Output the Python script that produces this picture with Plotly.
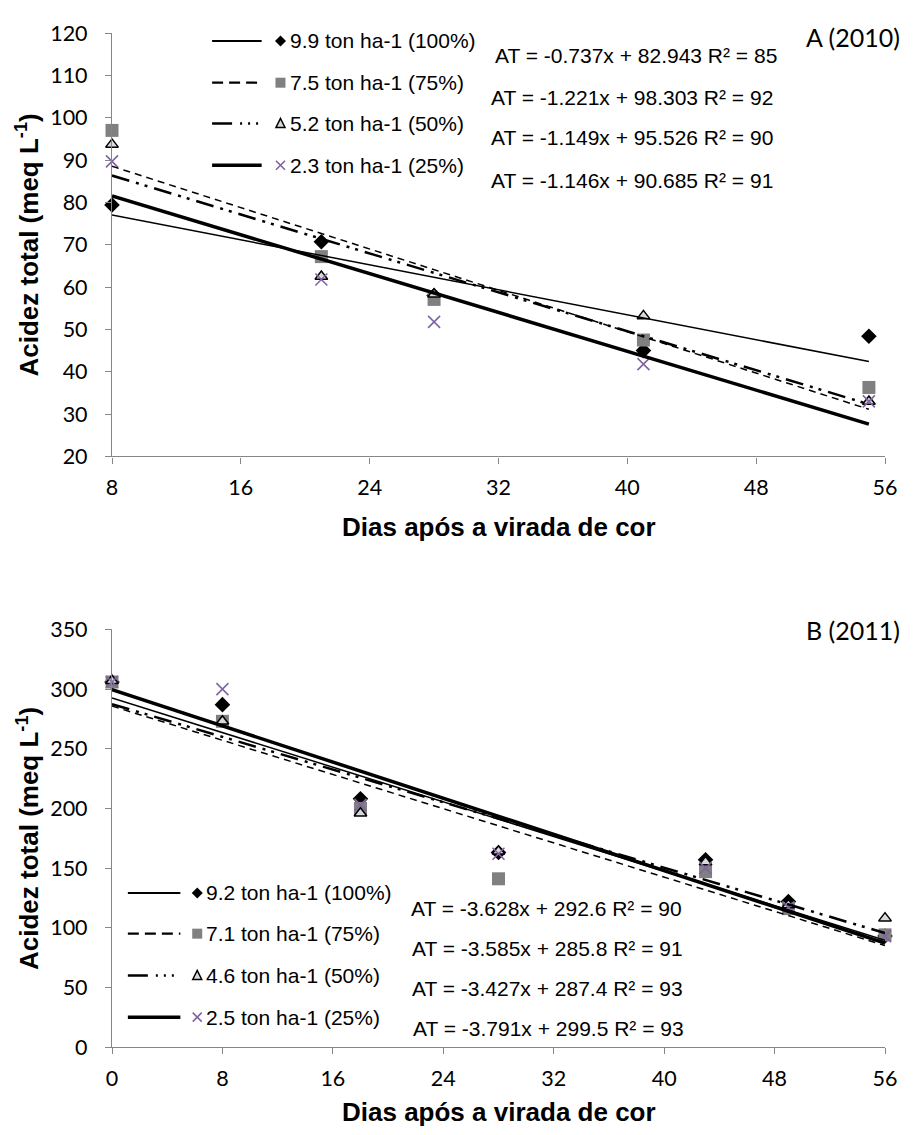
import plotly.graph_objects as go

# ---------------- data ----------------
days_a = [8, 21, 28, 41, 55]
a_100 = [79.4, 70.7, 58.0, 45.0, 48.4]
a_75 = [97.0, 67.2, 57.1, 47.5, 36.3]
a_50 = [93.7, 62.5, 58.3, 53.2, 33.0]
a_25 = [89.7, 61.8, 51.8, 41.8, 33.0]
slopes_a = [-0.737, -1.221, -1.149, -1.146]
intercepts_a = [82.943, 98.303, 95.526, 90.685]
r2_a = [85, 92, 90, 91]
labels_a = ["9.9 ton ha-1 (100%)", "7.5 ton ha-1 (75%)",
            "5.2 ton ha-1 (50%)", "2.3 ton ha-1 (25%)"]

days_b = [0, 8, 18, 28, 43, 49, 56]
b_100 = [306, 287, 208, 163, 157, 122, 93]
b_75 = [306, 273, 200, 141, 147, 116, 94]
b_50 = [307, 273, 196, 164, 155, 119, 108]
b_25 = [306, 300, 203, 162, 150, 117, 93]
slopes_b = [-3.628, -3.585, -3.427, -3.791]
intercepts_b = [292.6, 285.8, 287.4, 299.5]
r2_b = [90, 91, 93, 93]
labels_b = ["9.2 ton ha-1 (100%)", "7.1 ton ha-1 (75%)",
            "4.6 ton ha-1 (50%)", "2.5 ton ha-1 (25%)"]

x_ticks_a = [8, 16, 24, 32, 40, 48, 56]
y_ticks_a = [20, 30, 40, 50, 60, 70, 80, 90, 100, 110, 120]
x_ticks_b = [0, 8, 16, 24, 32, 40, 48, 56]
y_ticks_b = [0, 50, 100, 150, 200, 250, 300, 350]

panel_a_title = "A (2010)"
panel_b_title = "B (2011)"
x_title = "Dias após a virada de cor"
y_title = "Acidez total (meq L<sup>-1</sup>)"

# ---------------- layout geometry (page pixels) ----------------
OFF = 8                      # default body margin of the html page
W, H = 917 - 2 * OFF, 1135 - 2 * OFF
L, R, T, B = 112, 892, 27, 1047      # plot-area edges in page pixels
A_TOP, A_BOT = 27, 453
B_TOP, B_BOT = 627, 1047


def px2x(px):
    return (px - L) / (R - L)


def px2y(py):
    return (B - py) / (B - T)


ARIAL = "Liberation Sans, Arial, sans-serif"
CALIBRI = "Lato, Carlito, Calibri, sans-serif"

marker_styles = [
    dict(symbol="diamond", size=12, color="black"),
    dict(symbol="square", size=13, color="#808080"),
    dict(symbol="triangle-up", size=11, color="#d9d9d9", line=dict(color="black", width=1.5)),
    dict(symbol="x-thin-open", size=12, color="#8064A2", line=dict(color="#8064A2", width=1.6)),
]
line_styles = [
    dict(color="black", width=1.5, dash="solid"),
    dict(color="black", width=1.5, dash="7px,5px"),
    dict(color="black", width=2.5, dash="18px,7px,3px,6px,3px,7px"),
    dict(color="black", width=3.5, dash="solid"),
]
legend_line_styles = [
    dict(color="black", width=2, dash="solid"),
    dict(color="black", width=2.2, dash="11px,6px"),
    dict(color="black", width=2.5, dash="20px,8px,2px,6px,2px,6px,2px,8px"),
    dict(color="black", width=3.5, dash="solid"),
]

fig = go.Figure()

series_a = [a_100, a_75, a_50, a_25]
series_b = [b_100, b_75, b_50, b_25]

# markers
for i in range(4):
    fig.add_trace(go.Scatter(x=days_a, y=series_a[i], mode="markers",
                             marker=marker_styles[i], cliponaxis=False,
                             showlegend=False, xaxis="x", yaxis="y"))
for i in range(4):
    fig.add_trace(go.Scatter(x=days_b, y=series_b[i], mode="markers",
                             marker=marker_styles[i], cliponaxis=False,
                             showlegend=False, xaxis="x2", yaxis="y2"))

# trend lines (from the regression equations)
for i in range(4):
    xs = [min(days_a), max(days_a)]
    ys = [slopes_a[i] * v + intercepts_a[i] for v in xs]
    fig.add_trace(go.Scatter(x=xs, y=ys, mode="lines", line=line_styles[i],
                             cliponaxis=False, showlegend=False,
                             xaxis="x", yaxis="y"))
for i in range(4):
    xs = [min(days_b), max(days_b)]
    ys = [slopes_b[i] * v + intercepts_b[i] for v in xs]
    fig.add_trace(go.Scatter(x=xs, y=ys, mode="lines", line=line_styles[i],
                             cliponaxis=False, showlegend=False,
                             xaxis="x2", yaxis="y2"))

axis_common = dict(showline=True, linecolor="#868686", linewidth=1.2,
                   ticks="outside", ticklen=6, tickcolor="#868686", tickwidth=1.2,
                   showgrid=False, zeroline=False,
                   tickfont=dict(family=CALIBRI, size=21.5, color="black"))

dom_a = [px2y(A_BOT), px2y(A_TOP)]
dom_b = [px2y(B_BOT), px2y(B_TOP)]

fig.update_layout(
    width=W, height=H,
    margin=dict(l=L - OFF, r=W - (R - OFF), t=T - OFF, b=H - (B - OFF), pad=0),
    paper_bgcolor="white", plot_bgcolor="white",
    showlegend=False,
    xaxis=dict(axis_common, range=[8, 56], tickvals=x_ticks_a, domain=[0, 1],
               anchor="y", ticklabelstandoff=6),
    yaxis=dict(axis_common, range=[20, 120], tickvals=y_ticks_a, domain=dom_a,
               anchor="x", ticklabelstandoff=13),
    xaxis2=dict(axis_common, range=[0, 56], tickvals=x_ticks_b, domain=[0, 1],
                anchor="y2", ticklabelstandoff=6),
    yaxis2=dict(axis_common, range=[0, 350], tickvals=y_ticks_b, domain=dom_b,
                anchor="x2", ticklabelstandoff=13),
)

annotations = []
shapes = []

# axis titles
for top, bot, ty in [(A_TOP, A_BOT, 524), (B_TOP, B_BOT, 1112)]:
    annotations.append(dict(text=x_title, x=0.5, y=px2y(ty), xref="paper", yref="paper",
                            xanchor="center", yanchor="middle", showarrow=False,
                            font=dict(family=ARIAL, size=26, color="black", weight="bold")))
    annotations.append(dict(text=y_title, x=px2x(27), y=px2y((top + bot) / 2), xref="paper",
                            yref="paper", xanchor="center", yanchor="middle", showarrow=False,
                            textangle=-90,
                            font=dict(family=ARIAL, size=26, color="black", weight="bold")))

# panel titles
annotations.append(dict(text=panel_a_title, x=px2x(909), y=px2y(31), xref="paper", yref="paper",
                        xanchor="right", yanchor="middle", showarrow=False,
                        font=dict(family=CALIBRI, size=25, color="black")))
annotations.append(dict(text=panel_b_title, x=px2x(909), y=px2y(628), xref="paper", yref="paper",
                        xanchor="right", yanchor="middle", showarrow=False,
                        font=dict(family=CALIBRI, size=25, color="black")))


def eq_text(s, b, r):
    return f"AT = {s}x + {b} R² = {r}"


eq_rows_a = [(496, 50), (492, 92), (492, 132), (492, 175)]
eq_rows_b = [(412, 908), (413, 948), (413, 988), (414, 1028)]
for i in range(4):
    ex, ey = eq_rows_a[i]
    annotations.append(dict(text=eq_text(slopes_a[i], intercepts_a[i], r2_a[i]),
                            x=px2x(ex), y=px2y(ey), xref="paper", yref="paper",
                            xanchor="left", yanchor="middle", showarrow=False,
                            font=dict(family=ARIAL, size=21, color="black")))
    ex, ey = eq_rows_b[i]
    annotations.append(dict(text=eq_text(slopes_b[i], intercepts_b[i], r2_b[i]),
                            x=px2x(ex), y=px2y(ey), xref="paper", yref="paper",
                            xanchor="left", yanchor="middle", showarrow=False,
                            font=dict(family=ARIAL, size=21, color="black")))


def legend_marker(i, cx, cy):
    xa, ya = px2x(cx), px2y(cy)
    base = dict(type="path", xref="paper", yref="paper", xsizemode="pixel", ysizemode="pixel",
                xanchor=xa, yanchor=ya)
    if i == 0:
        return dict(base, path="M -5.5 0 L 0 5.5 L 5.5 0 L 0 -5.5 Z",
                    fillcolor="black", line=dict(width=0))
    if i == 1:
        return dict(base, path="M -5 -5 L 5 -5 L 5 5 L -5 5 Z",
                    fillcolor="#808080", line=dict(width=0))
    if i == 2:
        return dict(base, path="M -4.5 -4 L 4.5 -4 L 0 5 Z",
                    fillcolor="#d9d9d9", line=dict(color="black", width=1.5))
    return dict(base, path="M -4.5 -4.5 L 4.5 4.5 M -4.5 4.5 L 4.5 -4.5",
                line=dict(color="#8064A2", width=1.6))


leg_a = dict(x0=213, x1=263, mx=282, tx=290, rows=[35, 77, 118, 160])
leg_b = dict(x0=128, x1=181, mx=198, tx=205, rows=[892, 933, 975, 1017])
for leg, labels in [(leg_a, labels_a), (leg_b, labels_b)]:
    for i in range(4):
        ry = leg["rows"][i]
        shapes.append(dict(type="line", xref="paper", yref="paper",
                           x0=px2x(leg["x0"]), x1=px2x(leg["x1"]), y0=px2y(ry), y1=px2y(ry),
                           line=legend_line_styles[i]))
        shapes.append(legend_marker(i, leg["mx"], ry))
        annotations.append(dict(text=labels[i], x=px2x(leg["tx"]), y=px2y(ry),
                                xref="paper", yref="paper", xanchor="left", yanchor="middle",
                                showarrow=False,
                                font=dict(family=ARIAL, size=21, color="black")))

fig.update_layout(annotations=annotations, shapes=shapes)

fig.write_html("out.html")
